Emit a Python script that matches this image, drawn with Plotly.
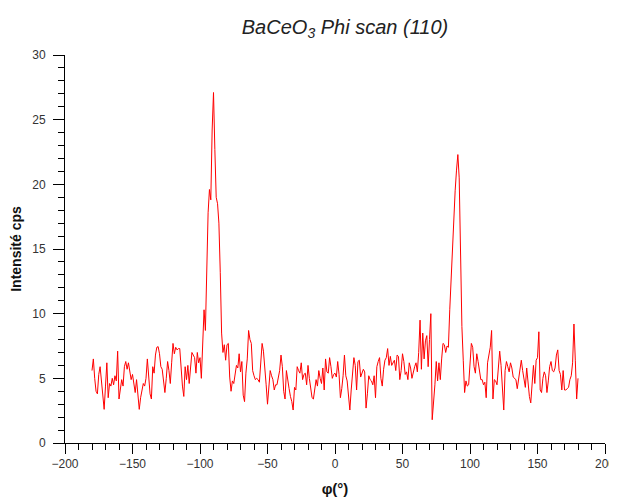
import plotly.graph_objects as go

# Phi angle (degrees), 1 degree step from -180 to 180
phi = list(range(-180, 181))

# Intensity (cps), grouped by angle range
intensity_m180_m100 = [
    5.6, 6.5, 5.0, 4.0, 3.8, 5.3, 5.9, 4.7, 3.8, 2.6,   # -180..-171
    4.4, 6.2, 3.5, 4.6, 4.4, 5.0, 4.5, 5.2, 4.8, 7.1,   # -170..-161
    3.4, 4.3, 4.9, 4.4, 5.9, 6.3, 5.7, 6.2, 5.4, 4.9,   # -160..-151
    5.3, 4.4, 3.9, 4.9, 3.8, 2.6, 3.5, 4.2, 4.6, 4.4,   # -150..-141
    5.0, 6.5, 4.9, 3.8, 3.4, 5.9, 5.4, 6.8, 7.4, 7.45,  # -140..-131
    6.9, 5.9, 5.7, 4.5, 3.9, 5.0, 6.3, 5.6, 4.6, 6.2,   # -130..-121
    7.7, 6.9, 7.4, 7.2, 7.3, 7.3, 5.6, 4.4, 3.6, 5.9,   # -120..-111
    4.9, 6.0, 4.6, 5.6, 7.0, 6.8, 6.6, 5.4, 7.0, 6.2,   # -110..-101
    6.6,                                                # -100
]
intensity_m99_m64 = [
    5.0, 8.0, 10.3, 8.7, 13.9, 17.8, 19.6, 18.8, 24.2, 27.1,  # -99..-90
    22.7, 19.0, 18.5, 17.0, 13.2, 8.5, 7.0, 7.6, 6.4, 7.6,    # -89..-80
    7.7, 5.1, 4.0, 4.8, 4.6, 5.4, 6.0, 5.8, 6.9, 5.5,         # -79..-70
    6.3, 3.7, 3.2, 5.4, 6.5, 8.7,                             # -69..-64
]
intensity_m63_17 = [
    8.0, 7.7, 5.6, 5.2, 4.9, 5.0, 4.9, 4.7, 6.0, 7.7,   # -63..-54
    7.1, 5.3, 4.5, 3.0, 4.3, 5.6, 5.2, 4.9, 4.1, 4.5,   # -53..-44
    4.5, 5.2, 5.6, 6.8, 5.9, 4.0, 3.4, 5.6, 4.7, 4.2,   # -43..-34
    3.6, 3.2, 2.55, 4.3, 4.1, 5.9, 5.6, 5.4, 6.2, 4.9,  # -33..-24
    5.3, 5.4, 4.5, 6.0, 5.0, 4.2, 3.5, 3.4, 4.1, 4.9,   # -23..-14
    4.4, 5.6, 5.0, 4.6, 5.8, 4.1, 6.5, 5.5, 5.4, 6.6,   # -13..-4
    5.9, 5.0, 5.3, 5.4, 5.1, 6.3, 5.3, 3.5, 4.2, 5.2,   # -3..6
    6.8, 5.2, 4.8, 3.8, 2.55, 4.1, 5.5, 6.6, 6.0, 4.1,  # 7..16
    6.3,                                                # 17
]
intensity_18_83 = [
    6.4, 5.1, 5.4, 5.7, 5.5, 2.7, 3.8, 5.2, 4.9, 4.8,   # 18..27
    4.5, 5.2, 3.5, 5.9, 6.3, 6.6, 5.0, 4.4, 5.7, 6.4,   # 28..37
    6.6, 7.3, 6.0, 6.7, 6.0, 6.2, 6.4, 5.6, 6.8, 6.7,   # 38..47
    4.9, 5.6, 6.9, 6.3, 5.3, 5.5, 4.9, 6.2, 5.8, 5.0,   # 48..57
    5.6, 5.9, 6.2, 5.5, 7.0, 9.5, 5.7, 8.5, 6.5, 7.9,   # 58..67
    8.3, 5.9, 8.0, 10.0, 1.8, 3.0, 4.5, 6.3, 4.8, 6.2,  # 68..77
    4.9, 6.5, 7.7, 7.6, 7.0, 7.5,                       # 78..83
]
intensity_84_98 = [
    7.4, 10.3, 12.8, 15.7, 18.0, 19.5, 21.1, 22.3, 20.5, 12.8,  # 84..93
    9.0, 6.4, 3.9, 4.8, 4.4,                                    # 94..98
]
intensity_99_180 = [
    4.5, 6.4, 7.7, 7.4, 5.9, 5.4, 6.9, 6.3, 5.4, 4.9,   # 99..108
    4.9, 4.5, 4.7, 3.5, 6.2, 6.8, 7.4, 8.7, 3.4, 4.9,   # 109..118
    4.8, 4.5, 5.9, 7.1, 6.0, 4.2, 2.55, 5.6, 6.3, 5.9,  # 119..128
    5.5, 6.2, 5.8, 5.1, 5.0, 4.9, 4.2, 5.0, 5.4, 6.4,   # 129..138
    5.6, 4.9, 4.3, 5.8, 4.5, 3.6, 3.1, 4.6, 6.0, 4.6,   # 139..148
    6.4, 6.6, 8.6, 4.1, 3.9, 5.0, 5.5, 5.2, 3.9, 4.8,   # 149..158
    5.9, 6.3, 5.6, 5.5, 5.8, 6.8, 7.2, 5.6, 5.3, 4.1,   # 159..168
    5.6, 4.1, 4.1, 4.2, 4.3, 4.9, 5.2, 6.2, 9.2, 6.4,   # 169..178
    3.4, 5.0,                                           # 179..180
]
intensity = (intensity_m180_m100 + intensity_m99_m64 + intensity_m63_17
             + intensity_18_83 + intensity_84_98 + intensity_99_180)

x_ticks = [-200, -150, -100, -50, 0, 50, 100, 150, 200]
y_ticks = [0, 5, 10, 15, 20, 25, 30]

fig = go.Figure()
fig.add_trace(go.Scatter(
    x=phi, y=intensity, mode="lines",
    line=dict(color="#ff0000", width=1),
    showlegend=False,
))

FONT = "Liberation Sans, Arial, sans-serif"
tick_font = dict(family=FONT, size=12, color="#333333")

# the page body adds an 8px offset; the figure is sized to end at the window edge
W, H = 609, 493
fig.update_layout(
    width=W, height=H,
    margin=dict(l=57, r=12, t=47, b=58),
    paper_bgcolor="white", plot_bgcolor="white",
    title=dict(
        text="<i>BaCeO<sub>3</sub> Phi scan (110)</i>",
        x=337 / W, xanchor="center", xref="container",
        y=1 - 19 / H, yanchor="middle", yref="container",
        font=dict(family=FONT, size=20, color="#222222"),
    ),
    xaxis=dict(
        range=[-200, 200], tickvals=x_ticks, automargin=False,
        ticklabeloverflow="allow",
        showgrid=False, zeroline=False,
        showline=True, linecolor="black", linewidth=1,
        ticks="outside", ticklen=10, tickwidth=1, tickcolor="black",
        minor=dict(dtick=10, ticks="outside", ticklen=6, tickcolor="black", showgrid=False),
        tickfont=tick_font,
        title=dict(text="<b>φ(°)</b>", standoff=13,
                   font=dict(family=FONT, size=15, color="#111111")),
    ),
    yaxis=dict(
        range=[0, 30], tickvals=y_ticks, automargin=False,
        ticklabeloverflow="allow",
        showgrid=False, zeroline=False,
        showline=True, linecolor="black", linewidth=1,
        ticks="outside", ticklen=11, tickwidth=1, tickcolor="black",
        ticklabelstandoff=5,
        minor=dict(dtick=1, ticks="outside", ticklen=6, tickcolor="black", showgrid=False),
        tickfont=tick_font,
        title=dict(text="<b>Intensité cps</b>", standoff=10,
                   font=dict(family=FONT, size=14, color="#111111")),
    ),
)

fig.write_html("out.html")
